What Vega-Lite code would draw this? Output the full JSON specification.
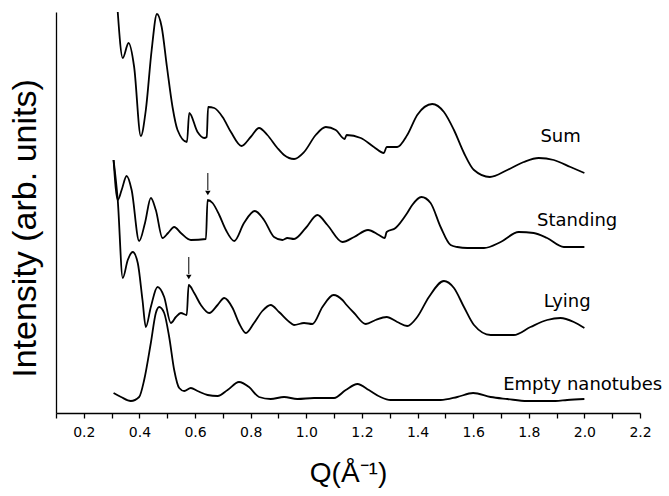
{
  "$schema": "https://vega.github.io/schema/vega-lite/v6.json",
  "width": 584,
  "height": 401,
  "autosize": {"type": "none"},
  "padding": {"left": 56, "top": 12, "right": 29, "bottom": 83},
  "background": "white",
  "config": {
    "view": {"stroke": null},
    "axis": {"grid": false, "domainColor": "black", "domainWidth": 1.3, "tickColor": "black", "titleColor": "black", "labelColor": "black"}
  },
  "resolve": {"scale": {"x": "independent"}, "axis": {"x": "independent"}},
  "datasets": {
    "curves": [
      {"s":"Sum","q":0.322,"v":400},{"s":"Sum","q":0.340,"v":354},{"s":"Sum","q":0.361,"v":369},{"s":"Sum","q":0.381,"v":345},{"s":"Sum","q":0.405,"v":276},{"s":"Sum","q":0.423,"v":302},{"s":"Sum","q":0.444,"v":362},{"s":"Sum","q":0.463,"v":398},{"s":"Sum","q":0.480,"v":385},{"s":"Sum","q":0.499,"v":345},{"s":"Sum","q":0.519,"v":305},{"s":"Sum","q":0.537,"v":282},{"s":"Sum","q":0.571,"v":270},{"s":"Sum","q":0.579,"v":299},{"s":"Sum","q":0.609,"v":280},{"s":"Sum","q":0.633,"v":274},{"s":"Sum","q":0.642,"v":275},{"s":"Sum","q":0.647,"v":305},{"s":"Sum","q":0.669,"v":304},{"s":"Sum","q":0.699,"v":295},{"s":"Sum","q":0.729,"v":280},{"s":"Sum","q":0.767,"v":266},{"s":"Sum","q":0.800,"v":275},{"s":"Sum","q":0.830,"v":284},{"s":"Sum","q":0.860,"v":277},{"s":"Sum","q":0.896,"v":264},{"s":"Sum","q":0.920,"v":257},{"s":"Sum","q":0.956,"v":253},{"s":"Sum","q":0.992,"v":260},{"s":"Sum","q":1.034,"v":277},{"s":"Sum","q":1.070,"v":285},{"s":"Sum","q":1.106,"v":282},{"s":"Sum","q":1.138,"v":273},{"s":"Sum","q":1.145,"v":277},{"s":"Sum","q":1.196,"v":274},{"s":"Sum","q":1.243,"v":265},{"s":"Sum","q":1.279,"v":259},{"s":"Sum","q":1.289,"v":265},{"s":"Sum","q":1.327,"v":265},{"s":"Sum","q":1.363,"v":277},{"s":"Sum","q":1.399,"v":297},{"s":"Sum","q":1.453,"v":308},{"s":"Sum","q":1.495,"v":300},{"s":"Sum","q":1.531,"v":282},{"s":"Sum","q":1.567,"v":259},{"s":"Sum","q":1.603,"v":242},{"s":"Sum","q":1.660,"v":235},{"s":"Sum","q":1.723,"v":242},{"s":"Sum","q":1.782,"v":250},{"s":"Sum","q":1.836,"v":254},{"s":"Sum","q":1.890,"v":252},{"s":"Sum","q":1.950,"v":245},{"s":"Sum","q":2.0,"v":239},

      {"s":"Standing","q":0.307,"v":252},{"s":"Standing","q":0.322,"v":212},{"s":"Standing","q":0.336,"v":222},{"s":"Standing","q":0.354,"v":236},{"s":"Standing","q":0.372,"v":222},{"s":"Standing","q":0.399,"v":171},{"s":"Standing","q":0.420,"v":189},{"s":"Standing","q":0.441,"v":214},{"s":"Standing","q":0.459,"v":202},{"s":"Standing","q":0.483,"v":174},{"s":"Standing","q":0.503,"v":179},{"s":"Standing","q":0.525,"v":185},{"s":"Standing","q":0.549,"v":179},{"s":"Standing","q":0.585,"v":172},{"s":"Standing","q":0.639,"v":173},{"s":"Standing","q":0.645,"v":212},{"s":"Standing","q":0.663,"v":209},{"s":"Standing","q":0.687,"v":197},{"s":"Standing","q":0.711,"v":182},{"s":"Standing","q":0.741,"v":171},{"s":"Standing","q":0.776,"v":189},{"s":"Standing","q":0.815,"v":201},{"s":"Standing","q":0.848,"v":192},{"s":"Standing","q":0.884,"v":175},{"s":"Standing","q":0.914,"v":172},{"s":"Standing","q":0.932,"v":174},{"s":"Standing","q":0.956,"v":173},{"s":"Standing","q":0.998,"v":184},{"s":"Standing","q":1.040,"v":197},{"s":"Standing","q":1.076,"v":187},{"s":"Standing","q":1.130,"v":170},{"s":"Standing","q":1.172,"v":175},{"s":"Standing","q":1.222,"v":182},{"s":"Standing","q":1.261,"v":177},{"s":"Standing","q":1.282,"v":174},{"s":"Standing","q":1.289,"v":180},{"s":"Standing","q":1.321,"v":184},{"s":"Standing","q":1.363,"v":199},{"s":"Standing","q":1.381,"v":207},{"s":"Standing","q":1.414,"v":215},{"s":"Standing","q":1.447,"v":209},{"s":"Standing","q":1.483,"v":185},{"s":"Standing","q":1.519,"v":167},{"s":"Standing","q":1.543,"v":165},{"s":"Standing","q":1.579,"v":164},{"s":"Standing","q":1.639,"v":164},{"s":"Standing","q":1.699,"v":170},{"s":"Standing","q":1.764,"v":180},{"s":"Standing","q":1.818,"v":179},{"s":"Standing","q":1.866,"v":174},{"s":"Standing","q":1.926,"v":165},{"s":"Standing","q":2.0,"v":165},

      {"s":"Lying","q":0.307,"v":252},{"s":"Lying","q":0.322,"v":212},{"s":"Lying","q":0.340,"v":134},{"s":"Lying","q":0.358,"v":152},{"s":"Lying","q":0.376,"v":160},{"s":"Lying","q":0.394,"v":149},{"s":"Lying","q":0.411,"v":112},{"s":"Lying","q":0.423,"v":85},{"s":"Lying","q":0.441,"v":105},{"s":"Lying","q":0.465,"v":125},{"s":"Lying","q":0.489,"v":115},{"s":"Lying","q":0.513,"v":89},{"s":"Lying","q":0.531,"v":95},{"s":"Lying","q":0.549,"v":99},{"s":"Lying","q":0.570,"v":97},{"s":"Lying","q":0.577,"v":127},{"s":"Lying","q":0.597,"v":119},{"s":"Lying","q":0.621,"v":107},{"s":"Lying","q":0.651,"v":99},{"s":"Lying","q":0.681,"v":107},{"s":"Lying","q":0.705,"v":114},{"s":"Lying","q":0.735,"v":104},{"s":"Lying","q":0.758,"v":89},{"s":"Lying","q":0.783,"v":79},{"s":"Lying","q":0.812,"v":89},{"s":"Lying","q":0.842,"v":101},{"s":"Lying","q":0.872,"v":107},{"s":"Lying","q":0.902,"v":100},{"s":"Lying","q":0.944,"v":89},{"s":"Lying","q":0.956,"v":87},{"s":"Lying","q":0.992,"v":89},{"s":"Lying","q":1.022,"v":88},{"s":"Lying","q":1.058,"v":105},{"s":"Lying","q":1.098,"v":117},{"s":"Lying","q":1.130,"v":112},{"s":"Lying","q":1.145,"v":107},{"s":"Lying","q":1.172,"v":99},{"s":"Lying","q":1.214,"v":88},{"s":"Lying","q":1.249,"v":92},{"s":"Lying","q":1.289,"v":95},{"s":"Lying","q":1.327,"v":90},{"s":"Lying","q":1.363,"v":86},{"s":"Lying","q":1.399,"v":95},{"s":"Lying","q":1.441,"v":115},{"s":"Lying","q":1.495,"v":131},{"s":"Lying","q":1.531,"v":124},{"s":"Lying","q":1.567,"v":105},{"s":"Lying","q":1.603,"v":87},{"s":"Lying","q":1.663,"v":77},{"s":"Lying","q":1.746,"v":77},{"s":"Lying","q":1.806,"v":85},{"s":"Lying","q":1.866,"v":92},{"s":"Lying","q":1.914,"v":94},{"s":"Lying","q":1.962,"v":90},{"s":"Lying","q":2.0,"v":84},

      {"s":"Empty","q":0.307,"v":19},{"s":"Empty","q":0.334,"v":15},{"s":"Empty","q":0.369,"v":11},{"s":"Empty","q":0.399,"v":15},{"s":"Empty","q":0.417,"v":32},{"s":"Empty","q":0.441,"v":69},{"s":"Empty","q":0.459,"v":99},{"s":"Empty","q":0.471,"v":105},{"s":"Empty","q":0.489,"v":99},{"s":"Empty","q":0.507,"v":75},{"s":"Empty","q":0.525,"v":42},{"s":"Empty","q":0.543,"v":24},{"s":"Empty","q":0.561,"v":21},{"s":"Empty","q":0.585,"v":24},{"s":"Empty","q":0.609,"v":21},{"s":"Empty","q":0.645,"v":17},{"s":"Empty","q":0.681,"v":16},{"s":"Empty","q":0.717,"v":22},{"s":"Empty","q":0.758,"v":30},{"s":"Empty","q":0.794,"v":25},{"s":"Empty","q":0.830,"v":15},{"s":"Empty","q":0.872,"v":13},{"s":"Empty","q":0.920,"v":15},{"s":"Empty","q":0.968,"v":13},{"s":"Empty","q":1.028,"v":14},{"s":"Empty","q":1.100,"v":14},{"s":"Empty","q":1.142,"v":22},{"s":"Empty","q":1.184,"v":28},{"s":"Empty","q":1.225,"v":22},{"s":"Empty","q":1.267,"v":15},{"s":"Empty","q":1.303,"v":12},{"s":"Empty","q":1.483,"v":12},{"s":"Empty","q":1.543,"v":15},{"s":"Empty","q":1.600,"v":19},{"s":"Empty","q":1.663,"v":15},{"s":"Empty","q":1.723,"v":13},{"s":"Empty","q":1.794,"v":11},{"s":"Empty","q":1.896,"v":11},{"s":"Empty","q":1.938,"v":12},{"s":"Empty","q":2.0,"v":13}
    ],
    "labels": [
      {"t":"Sum","q":1.842,"v":270},
      {"t":"Standing","q":1.830,"v":186},
      {"t":"Lying","q":1.854,"v":105},
      {"t":"Empty nanotubes","q":1.708,"v":22}
    ],
    "arrows": [
      {"q":0.646,"v1":239,"v2":222,"tip":219},
      {"q":0.5775,"v1":155,"v2":138,"tip":135}
    ]
  },
  "layer": [
    {
      "data": {"name": "curves"},
      "mark": {"type": "line", "color": "black", "strokeWidth": 1.8, "interpolate": "monotone"},
      "encoding": {
        "x": {"field": "q", "type": "quantitative", "scale": {"domain": [0.1, 2.2], "nice": false, "zero": false},
          "axis": {"orient": "bottom", "title": "Q(Å⁻¹)", "titleFont": "Liberation Sans", "titleFontSize": 28, "titleFontWeight": "normal", "titlePadding": 20,
            "values": [0.2,0.4,0.6,0.8,1.0,1.2,1.4,1.6,1.8,2.0,2.2],
            "format": ".1f",
            "labelFont": "DejaVu Sans", "labelFontSize": 14, "labelPadding": 7, "tickSize": 5, "tickWidth": 1.3, "labelFlush": false, "labelOverlap": false}},
        "y": {"field": "v", "type": "quantitative", "scale": {"domain": [-1, 400], "nice": false, "zero": false},
          "axis": {"title": "Intensity (arb. units)", "titleFont": "Liberation Sans", "titleFontSize": 34, "titleFontWeight": "normal", "titlePadding": 14, "titleY": 216, "ticks": false, "labels": false}},
        "detail": {"field": "s"}
      }
    },
    {
      "data": {"name": "arrows"},
      "mark": {"type": "rule", "color": "black", "strokeWidth": 1},
      "encoding": {
        "x": {"field": "q", "type": "quantitative", "scale": {"domain": [0.1, 2.2], "nice": false, "zero": false},
          "axis": {"orient": "bottom", "title": null, "values": [0.1,0.3,0.5,0.7,0.9,1.1,1.3,1.5,1.7,1.9,2.1], "labels": false, "domain": false, "tickSize": 5, "tickWidth": 1.3}},
        "y": {"field": "v1", "type": "quantitative"},
        "y2": {"field": "v2"}
      }
    },
    {
      "data": {"name": "arrows"},
      "mark": {"type": "point", "shape": "triangle-down", "filled": true, "size": 30, "color": "black", "opacity": 1},
      "encoding": {
        "x": {"field": "q", "type": "quantitative", "scale": {"domain": [0.1, 2.2], "nice": false, "zero": false}, "axis": null},
        "y": {"field": "tip", "type": "quantitative"}
      }
    },
    {
      "data": {"name": "labels"},
      "mark": {"type": "text", "align": "left", "baseline": "alphabetic", "font": "DejaVu Sans", "fontSize": 18, "color": "black"},
      "encoding": {
        "x": {"field": "q", "type": "quantitative", "scale": {"domain": [0.1, 2.2], "nice": false, "zero": false}, "axis": null},
        "y": {"field": "v", "type": "quantitative"},
        "text": {"field": "t"}
      }
    }
  ]
}
